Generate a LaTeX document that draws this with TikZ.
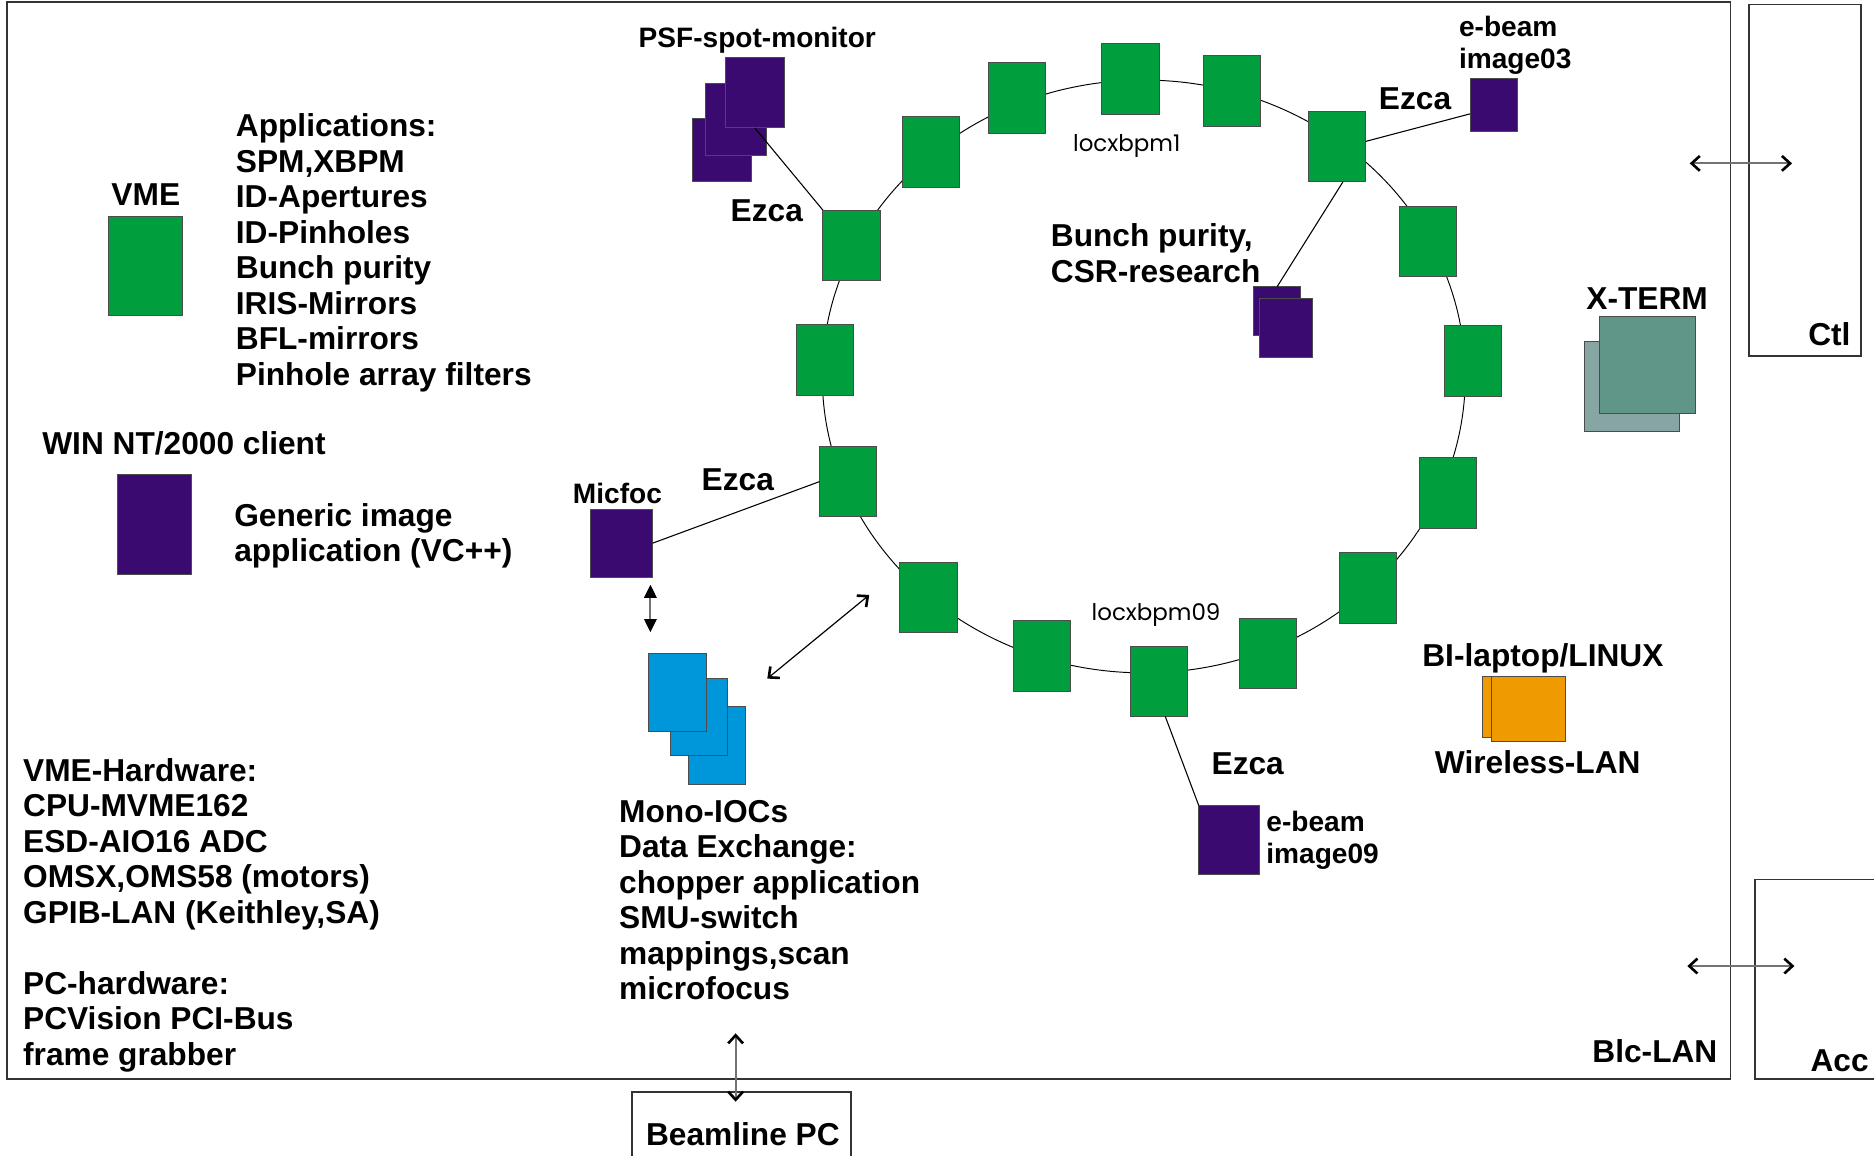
\documentclass[tikz,border=0pt]{standalone}
\usepackage{fontspec}
\setmainfont{Liberation Sans}
\newfontfamily\thinfont{Poppins}
\usetikzlibrary{arrows.meta,fit}
\definecolor{vgreen}{RGB}{0,158,61}
\definecolor{vpurple}{RGB}{58,10,112}
\definecolor{vblue}{RGB}{0,150,218}
\definecolor{vorange}{RGB}{238,154,0}
\definecolor{vteal}{RGB}{95,150,136}
\definecolor{vtealb}{RGB}{134,165,163}
\newcommand\txtblock[1]{\vtop{\halign{##\hfil\cr#1\crcr}}}
\tikzset{
  box/.style={draw=black!70, line width=0.4pt, inner sep=0pt, outer sep=0pt},
  gbox/.style={box, fill=vgreen, minimum width=24pt, minimum height=29.5pt},
  pbox/.style={box, fill=vpurple},
  bbox/.style={box, fill=vblue},
  obox/.style={box, fill=vorange},
  frame/.style={draw=black!80, line width=0.7pt, inner sep=0pt},
  big/.style={font=\fontsize{13.25pt}{14.85pt}\selectfont\bfseries, inner sep=0pt, anchor=base west},
  small/.style={font=\fontsize{11.75pt}{13.3pt}\selectfont\bfseries, inner sep=0pt, anchor=base west},
  thin/.style={font=\thinfont\fontsize{9.6pt}{12pt}\selectfont, inner sep=0pt, anchor=base west},
  conn/.style={draw=black, line width=0.45pt},
  barb/.tip={Straight Barb[length=3.4pt,width=6.2pt,line width=1.1pt,color=black]},
  openarr/.style={line width=0.8pt, draw=black!55, barb-barb},
  darr/.style={line width=0.5pt, draw=black, barb-barb},
  fillarr/.style={line width=0.8pt, draw=black!55, {Triangle[length=5.5pt,width=5.2pt,color=black]}-{Triangle[length=5.5pt,width=5.2pt,color=black]}},
}
\begin{document}
\begin{tikzpicture}[x=0.5pt,y=-0.5pt]
\useasboundingbox (0,0) rectangle (1568,967);
% frames
\node[frame, fit={(6,1.6) (1448,902.8)}] (blc) {};
\node[frame, fit={(1463.2,3.8) (1556.9,297.8)}] (ctl) {};
\node[frame, fit={(1468.2,735.8) (1600,902.8)}] (acc) {};
\node[frame, fit={(528.7,913.9) (712.3,990)}] (bpc) {};
% ring
\draw[line width=0.4pt] (957,315) ellipse [x radius=269, y radius=248];
% VME boxes on the ring
\node[gbox] (b1) at (779,127) {};
\node[gbox] (b2) at (851,82) {};
\node[gbox] (b3) at (946,66) {};
\node[gbox] (b4) at (1031,76) {};
\node[gbox] (b5) at (1118.5,122.6) {};
\node[gbox] (b6) at (1194.7,202.2) {};
\node[gbox] (b7) at (1232.5,302) {};
\node[gbox] (b8) at (1211.6,412.6) {};
\node[gbox] (b9) at (1144.6,492) {};
\node[gbox] (b10) at (1061,546.7) {};
\node[gbox] (b11) at (969.8,570) {};
\node[gbox] (b12) at (871.9,548.9) {};
\node[gbox] (b13) at (777,500) {};
\node[gbox] (b14) at (709.6,403) {};
\node[gbox] (b15) at (690,301.3) {};
\node[gbox] (b16) at (712.5,205.3) {};
% legend
\node[box, fill=vgreen, fit={(91,181) (153,264)}] (lvme) {};
\node[pbox, fit={(98,397) (160,481)}] (lwin) {};
% clients
\node[pbox, fit={(579,99) (629,152)}] (psf3) {};
\node[pbox, fit={(590,70) (641,130)}] (psf2) {};
\node[pbox, fit={(607,48) (656,107)}] (psf1) {};
\node[pbox, fit={(1230,66) (1270,110)}] (img03) {};
\node[pbox, fit={(1049,240) (1088,281)}] (bpb) {};
\node[pbox, fit={(1054,250) (1098,299)}] (bpf) {};
\node[pbox, fit={(494,426) (546,483)}] (mic) {};
\node[pbox, fit={(1003,674) (1054,732)}] (img09) {};
\node[bbox, fit={(576,591) (624,656)}] (mo3) {};
\node[bbox, fit={(561,568) (609,632)}] (mo2) {};
\node[bbox, fit={(543,547) (591,612)}] (mo1) {};
\node[box, fill=vtealb, fit={(1325.6,286) (1405.3,360.9)}] (xt2) {};
\node[box, fill=vteal, fit={(1338.3,265.1) (1418.4,345.8)}] (xt1) {};
\node[obox, fit={(1240,566) (1309,617)}] (la2) {};
\node[obox, fit={(1248,566) (1310,620)}] (la1) {};
% connectors
\draw[conn] (psf1.south) -- (b16.north west);
\draw[conn] (b5.10) -- (img03.200);
\draw[conn] (b5.-80) -- (bpb.north);
\draw[conn] (mic.east) -- (b14.west);
\draw[conn] (b11.-80) -- (img09.north west);
% arrows
\coordinate (ctlA) at (1413.8,136.7); \coordinate (ctlB) at (1499.4,136.7);
\coordinate (accA) at (1411.8,808.3); \coordinate (accB) at (1501.4,808.3);
\coordinate (bpcA) at (615.5,864.6); \coordinate (bpcB) at (615.5,921.8);
\coordinate (micA) at (544.2,489.2); \coordinate (micB) at (544.2,529);
\coordinate (dgA) at (642,567.8); \coordinate (dgB) at (727.3,497.8);
\draw[openarr] (ctlA) -- (ctlB);
\draw[openarr] (accA) -- (accB);
\draw[openarr] (bpcA) -- (bpcB);
\draw[darr] (dgA) -- (dgB);
\draw[fillarr] (micA) -- (micB);
% texts
\node[big] (tapps) at (197,114.4) {\txtblock{Applications:\cr SPM,XBPM\cr ID-Apertures\cr ID-Pinholes\cr Bunch purity\cr IRIS-Mirrors\cr BFL-mirrors\cr Pinhole array filters}};
\node[big, anchor=base] (tvme) at (122,172.3) {VME};
\node[big] (twin) at (35,380.4) {WIN NT/2000 client};
\node[big] (tgen) at (195.6,440.3) {\txtblock{Generic image\cr application (VC++)}};
\node[big] (thw) at (19,653.7) {\txtblock{VME-Hardware:\cr CPU-MVME162\cr ESD-AIO16 ADC\cr OMSX,OMS58 (motors)\cr GPIB-LAN (Keithley,SA)\cr \mbox{}\cr PC-hardware:\cr PCVision PCI-Bus\cr frame grabber}};
\node[big] (tmono) at (517.7,688) {\txtblock{Mono-IOCs\cr Data Exchange:\cr chopper application\cr SMU-switch\cr mappings,scan\cr microfocus}};
\node[big] (tbpc) at (540.2,958.5) {Beamline PC};
\node[small] (tpsf) at (534,40) {PSF-spot-monitor};
\node[big] (tez1) at (611,185) {Ezca};
\node[big] (tez2) at (586.7,410) {Ezca};
\node[small] (tmic) at (479,421) {Micfoc};
\node[big] (tez3) at (1153.4,91.3) {Ezca};
\node[small] (ti03) at (1220.4,30.4) {\txtblock{e-beam\cr image03}};
\node[thin] (tloc1) at (897.5,126.5) {locxbpm1};
\node[big] (tbunch) at (878.9,206.5) {\txtblock{Bunch purity,\cr CSR-research}};
\node[big] (txterm) at (1327,258.7) {X-TERM};
\node[big] (tctl) at (1512.6,289) {Ctl};
\node[thin] (tloc9) at (913,518.8) {locxbpm09};
\node[big] (tlap) at (1189.7,557.6) {BI-laptop/LINUX};
\node[big] (twl) at (1200.2,647.3) {Wireless-LAN};
\node[big] (tez4) at (1013.4,648.3) {Ezca};
\node[small] (ti09) at (1059.2,696) {\txtblock{e-beam\cr image09}};
\node[big] (tblc) at (1332,889) {Blc-LAN};
\node[big] (tacc) at (1514.5,896.4) {Acc};
\end{tikzpicture}
\end{document}
